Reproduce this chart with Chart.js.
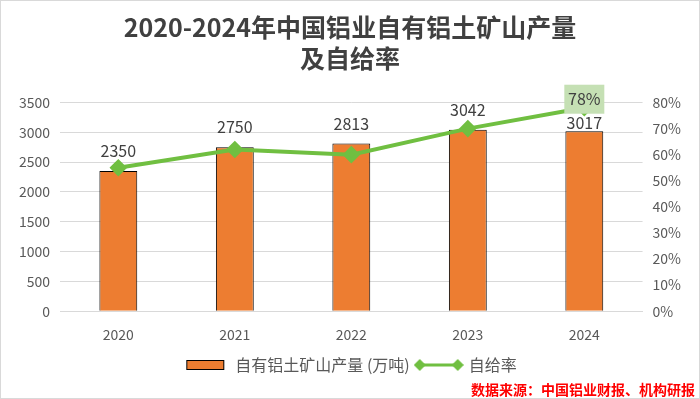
<!DOCTYPE html>
<html>
<head>
<meta charset="utf-8">
<script src="https://cdn.jsdelivr.net/npm/chart.js@4/dist/chart.umd.min.js"></script>
<style>
  html, body { margin: 0; padding: 0; background: #fff; }
  #wrap { width: 698px; height: 397px; border: 1px solid #d9d9d9; position: relative; }
</style>
</head>
<body>
<div id="wrap"><canvas id="canvas" width="698" height="397"></canvas></div>
<script>
'use strict';

var years = ['2020', '2021', '2022', '2023', '2024'];
var output = [2350, 2750, 2813, 3042, 3017];
var selfRate = [55, 62, 60, 70, 78];
var leftTicks = [0, 500, 1000, 1500, 2000, 2500, 3000, 3500];
var rightTicks = [0, 10, 20, 30, 40, 50, 60, 70, 80];

var font = '"Noto Sans CJK SC", "Noto Sans", sans-serif';

// little canvases used as legend symbols
function barSymbol() {
  var c = document.createElement('canvas');
  c.width = 40; c.height = 12;
  var g = c.getContext('2d');
  g.fillStyle = '#ed7d31';
  g.fillRect(1, 1, 38, 10);
  g.strokeStyle = '#000';
  g.lineWidth = 1;
  g.strokeRect(1.5, 1.5, 37, 9);
  return c;
}
function lineSymbol() {
  var c = document.createElement('canvas');
  c.width = 50; c.height = 14;
  var g = c.getContext('2d');
  g.strokeStyle = '#70bf41';
  g.lineWidth = 3;
  g.beginPath(); g.moveTo(5, 7); g.lineTo(45, 7); g.stroke();
  g.fillStyle = '#70bf41';
  [6, 44].forEach(function (x) {
    g.beginPath();
    g.moveTo(x, 1); g.lineTo(x + 6, 7); g.lineTo(x, 13); g.lineTo(x - 6, 7);
    g.closePath(); g.fill();
  });
  return c;
}

var valueLabels = {
  id: 'valueLabels',
  afterDatasetsDraw: function (chart) {
    var ctx = chart.ctx;
    ctx.save();
    ctx.font = '16px ' + font;
    ctx.fillStyle = '#404040';
    ctx.textAlign = 'center';
    ctx.textBaseline = 'middle';
    var bars = chart.getDatasetMeta(0).data;
    bars.forEach(function (bar, i) {
      var off = i === bars.length - 1 ? 8 : 20;
      ctx.fillText(output[i], bar.x, bar.y - off);
    });
    // only the last point of the line gets a label
    var pts = chart.getDatasetMeta(1).data;
    var p = pts[pts.length - 1];
    ctx.fillStyle = '#c5e0b4';
    ctx.fillRect(p.x - 20, p.y - 23, 40, 29);
    ctx.fillStyle = '#404040';
    ctx.fillText(selfRate[selfRate.length - 1] + '%', p.x, p.y - 9);
    // source note
    ctx.font = 'bold 14px ' + font;
    ctx.fillStyle = '#ff0000';
    ctx.textAlign = 'right';
    ctx.fillText('数据来源：中国铝业财报、机构研报', chart.width - 4, chart.height - 8);
    ctx.restore();
  }
};

var ctx = document.getElementById('canvas').getContext('2d');
var symbols = [barSymbol(), lineSymbol()];

var chart = new Chart(ctx, {
  data: {
    labels: years,
    datasets: [{
      type: 'bar',
      label: '自有铝土矿山产量 (万吨)',
      data: output,
      backgroundColor: '#ed7d31',
      borderColor: '#000000',
      borderWidth: 1,
      barPercentage: 0.65,
      categoryPercentage: 0.5,
      yAxisID: 'y',
      order: 2
    }, {
      type: 'line',
      label: '自给率',
      data: selfRate,
      borderColor: '#70bf41',
      backgroundColor: '#70bf41',
      borderWidth: 4,
      pointStyle: 'rectRot',
      pointRadius: 6,
      pointHoverRadius: 6,
      tension: 0,
      yAxisID: 'y1',
      order: 1
    }]
  },
  options: {
    responsive: false,
    animation: false,
    layout: { padding: { left: 8, right: 8, top: 5, bottom: 15 } },
    plugins: {
      title: {
        display: true,
        text: ['2020-2024年中国铝业自有铝土矿山产量', '及自给率'],
        color: '#404040',
        font: { family: font, size: 25, weight: 'bold', lineHeight: 1.25 },
        padding: { top: 6, bottom: 28 }
      },
      legend: {
        position: 'bottom',
        labels: {
          color: '#595959',
          font: { family: font, size: 16 },
          usePointStyle: true,
          pointStyleWidth: 44,
          boxHeight: 14,
          padding: 7,
          generateLabels: function (chart) {
            return chart.data.datasets.map(function (ds, i) {
              return {
                text: ds.label,
                pointStyle: symbols[i],
                fontColor: '#595959',
                lineWidth: 0,
                datasetIndex: i
              };
            });
          }
        }
      },
      tooltip: { enabled: false }
    },
    scales: {
      x: {
        grid: { display: false },
        border: { color: '#d9d9d9' },
        ticks: { color: '#595959', font: { family: font, size: 14 }, padding: 7 }
      },
      y: {
        position: 'left',
        min: 0,
        max: leftTicks[leftTicks.length - 1],
        afterBuildTicks: function (axis) {
          axis.ticks = leftTicks.map(function (v) { return { value: v }; });
        },
        grid: { color: '#d9d9d9', drawTicks: false },
        border: { display: false },
        ticks: {
          color: '#595959',
          font: { family: font, size: 14 },
          padding: 10,
          callback: function (v) { return String(v); }
        }
      },
      y1: {
        position: 'right',
        min: 0,
        max: rightTicks[rightTicks.length - 1],
        afterBuildTicks: function (axis) {
          axis.ticks = rightTicks.map(function (v) { return { value: v }; });
        },
        grid: { display: false, drawTicks: false },
        border: { display: false },
        ticks: {
          color: '#595959',
          font: { family: font, size: 14 },
          padding: 10,
          callback: function (v) { return v + '%'; }
        }
      }
    }
  },
  plugins: [valueLabels]
});
</script>
</body>
</html>
